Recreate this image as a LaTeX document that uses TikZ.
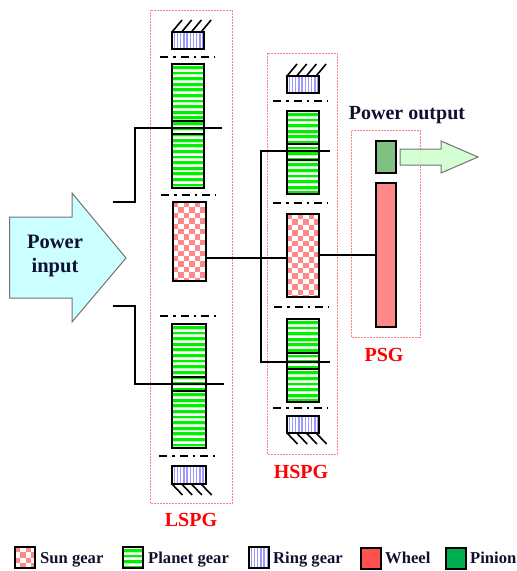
\documentclass[tikz,border=0pt]{standalone}
\usepackage{fontspec}
\setmainfont{Liberation Serif}
\usetikzlibrary{calc}
\definecolor{ringblue}{HTML}{9999FF}
\definecolor{sunred}{HTML}{FF8888}
\definecolor{planetgreen}{HTML}{00F000}
\definecolor{inkdark}{HTML}{101030}
\tikzset{
 x=1pt,y=-1pt,
 gearbox/.style={draw=black,line width=1.9pt,inner sep=0pt,outer sep=0pt,anchor=north west,minimum width=#1},
 planetgear/.style={gearbox=32pt,path picture={
   \foreach \k in {0,1,...,40}{
     \fill[planetgreen] ($(path picture bounding box.north west)+(0,2+5.6*\k)$) rectangle ($(path picture bounding box.north east)+(0,4.8+5.6*\k)$);
     \fill[green!30] ($(path picture bounding box.north west)+(0,4.8+5.6*\k)$) rectangle ($(path picture bounding box.north east)+(0,5.8+5.6*\k)$);
   }}},
 ringgear/.style={gearbox=32pt,minimum height=17pt,path picture={
   \foreach \k in {0,1,...,10}{
     \fill[ringblue] ($(path picture bounding box.north west)+(1.5+3.2*\k,0)$) rectangle ($(path picture bounding box.south west)+(3+3.2*\k,0)$);
   }}},
 sungear/.style={gearbox=33pt,path picture={
   \foreach \i in {0,...,9}{\foreach \j in {0,...,22}{
     \pgfmathtruncatemacro{\myparity}{mod(\i+\j,2)}
     \ifnum\myparity=0
     \fill[sunred] ($(path picture bounding box.north west)+(\i*5.4,\j*5.4)$) rectangle ++(5.4,5.4);
     \fi
   }}}},
 shaft/.style={draw=black,line width=1.9pt},
 innerline/.style={draw=black,line width=1.9pt},
 center/.style={draw=black,line width=1.8pt,dash pattern=on 8pt off 5pt on 2.5pt off 5pt},
 hatch/.style={draw=black,line width=1.6pt},
 groupbox/.style={draw=red!50,line width=1pt,dash pattern=on 1pt off 0.5pt,inner sep=0pt,anchor=north west},
 grouplabel/.style={text=red,font=\bfseries\fontsize{20}{22}\selectfont,inner sep=0pt},
 legendbox/.style={draw=black,line width=1.7pt,inner sep=0pt,anchor=north west,minimum width=20pt,minimum height=20pt},
 legendtext/.style={font=\bfseries\fontsize{16.6}{18}\selectfont,inner sep=0pt,anchor=base west,text=inkdark},
 bigarrow/.style={line width=1pt,line join=miter},
}
\newcommand{\hatchup}[2]{\foreach \k in {0,1,2,3}{\draw[hatch] (#1+\k*9.7,#2) -- ++(10,-12);}}
\newcommand{\hatchdown}[2]{\foreach \k in {0,1,2,3}{\draw[hatch] (#1+\k*9.7,#2) -- ++(10.5,11);}}
\begin{document}
\begin{tikzpicture}
\useasboundingbox (0,0) rectangle (517,571);
% input arrow
\draw[bigarrow,draw=black!55,fill={rgb,255:red,204;green,255;blue,255}] (9.5,217) -- (72,217) -- (72,193) -- (126,258) -- (72,322) -- (72,298) -- (9.5,298) -- cycle;
\node[font=\bfseries\fontsize{20.5}{24}\selectfont,align=center,inner sep=0pt,text=inkdark] (inlabel) at (55,256) {Power\\input};
% LSPG
\node[ringgear] (lr1) at (172,32) {};
\hatchup{172}{32}
\draw[center] (160,57) -- (215,57);
\node[planetgear,minimum height=124pt] (lp1) at (172,64) {};
\draw[innerline] (172,121) -- (204,121);
\draw[innerline] (172,134) -- (204,134);
\draw[center] (161,195) -- (216,195);
\node[sungear,minimum height=79pt] (ls) at (173,202) {};
\draw[center] (160,316) -- (216,316);
\node[planetgear,minimum height=124pt,minimum width=34pt] (lp2) at (172,324) {};
\draw[innerline] (172,377) -- (206,377);
\draw[innerline] (172,391) -- (206,391);
\draw[center] (159,456) -- (215,456);
\node[ringgear,minimum width=34pt,minimum height=18pt] (lr2) at (172,466) {};
\hatchdown{172}{484}
\node[groupbox,minimum width=82pt,minimum height=493pt] (lspg) at (150,9.5) {};
\node[grouplabel] (lspgl) at (191,520) {LSPG};
% HSPG
\node[ringgear] (hr1) at (287,76) {};
\hatchup{287}{76}
\draw[center] (273,101) -- (328,101);
\node[planetgear,minimum height=83pt] (hp1) at (287,111) {};
\draw[innerline] (287,144) -- (319,144);
\draw[innerline] (287,160) -- (319,160);
\draw[center] (273,203) -- (328,203);
\node[sungear,minimum width=32pt,minimum height=83pt] (hs) at (287,214) {};
\draw[center] (274,307) -- (329,307);
\node[planetgear,minimum height=83pt] (hp2) at (287,319) {};
\draw[innerline] (287,353) -- (319,353);
\draw[innerline] (287,369) -- (319,369);
\draw[center] (273,408) -- (328,408);
\node[ringgear] (hr2) at (287,416) {};
\hatchdown{287}{433}
\node[groupbox,minimum width=70pt,minimum height=401pt] (hspg) at (267,53) {};
\node[grouplabel] (hspgl) at (301,472) {HSPG};
% PSG
\node[groupbox,minimum width=69pt,minimum height=207pt] (psg) at (351,130) {};
\node[grouplabel] (psgl) at (384,355) {PSG};
\node[gearbox=20pt,minimum height=32pt,fill={rgb,255:red,128;green,192;blue,128}] (pin) at (376,141) {};
\node[gearbox=20pt,minimum height=144pt,fill=sunred] (wheel) at (376,183) {};
\node[font=\bfseries\fontsize{20}{22}\selectfont,inner sep=0pt,text=inkdark] (outlabel) at (407,115) {Power output};
\draw[bigarrow,draw=black!55,fill={rgb,255:red,204;green,255;blue,204},fill opacity=0.85] (400,149) -- (441,149) -- (441,141) -- (478,157) -- (441,173) -- (441,165) -- (400,165) -- cycle;
% shafts
\coordinate (a1) at (113,202); \coordinate (a2) at (135,202); \coordinate (a3) at (135,128); \coordinate (a4) at (222,128);
\draw[shaft] (a1) -- (a2) -- (a3) -- (a4);
\coordinate (b1) at (113,306); \coordinate (b2) at (135,306); \coordinate (b3) at (135,384); \coordinate (b4) at (224,384);
\draw[shaft] (b1) -- (b2) -- (b3) -- (b4);
\coordinate (c1) at (330,151); \coordinate (c2) at (261,151); \coordinate (c3) at (261,362); \coordinate (c4) at (330,362);
\draw[shaft] (c1) -- (c2) -- (c3) -- (c4);
\draw[shaft] (ls.east |- 0,258) -- (hs.west |- 0,258);
\draw[shaft] (hs.east |- 0,255) -- (wheel.west |- 0,255);
% legend
\node[sungear,legendbox,minimum width=20pt,minimum height=21pt] (k1) at (15,547) {};
\node[legendtext] (t1) at (40,563.5) {Sun gear};
\node[planetgear,legendbox,minimum width=20pt,minimum height=21pt] (k2) at (123,547) {};
\node[legendtext] (t2) at (148,563.5) {Planet gear};
\node[ringgear,legendbox,minimum width=20pt,minimum height=21pt] (k3) at (249,547) {};
\node[legendtext] (t3) at (273,563.5) {Ring gear};
\node[legendbox,fill={rgb,255:red,255;green,80;blue,80},minimum width=20pt,minimum height=21pt] (k4) at (360,547) {};
\node[legendtext] (t4) at (385,563.5) {Wheel};
\node[legendbox,fill={rgb,255:red,0;green,176;blue,80},minimum width=20pt,minimum height=21pt] (k5) at (445,547) {};
\node[legendtext] (t5) at (470,563.5) {Pinion};
\end{tikzpicture}
\end{document}
